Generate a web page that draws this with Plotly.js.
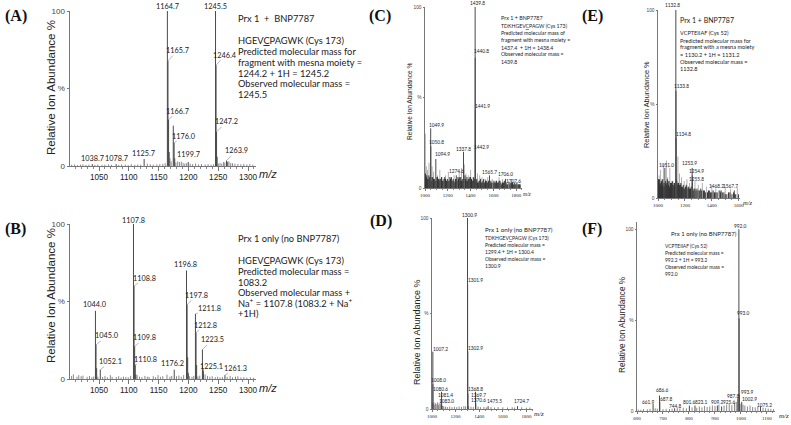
<!DOCTYPE html>
<html><head><meta charset="utf-8">
<script src="https://cdn.plot.ly/plotly-3.0.1.min.js"></script>
<style>html,body{margin:0;padding:0;background:#fff;} #chart{width:791px;height:425px;}</style>
</head><body><div id="chart"></div>
<script>
// ---------------- DATA ----------------
// Panel A: Prx 1 + BNP7787, HGEVCPAGWK
const aMz  = [1038.7, 1078.7, 1125.7, 1164.7, 1165.7, 1166.7, 1167.7, 1174.6, 1176.0, 1177.0, 1199.7, 1245.5, 1246.4, 1247.2, 1248.2, 1263.9, 1264.9];
const aInt = [1.2, 1.2, 4.5, 100, 68, 30, 9, 26, 15, 5, 2.6, 100, 65, 22, 6, 3.5, 2.5];
const aLabelMz = [1038.7, 1078.7, 1125.7, 1164.7, 1165.7, 1166.7, 1176.0, 1199.7, 1245.5, 1246.4, 1247.2, 1263.9];
const aNoiseMz  = [1004,1009,1014,1019,1023,1028,1033,1043,1048,1055,1060,1066,1071,1083,1088,1094,1099,1104,1110,1115,1120,1131,1136,1141,1147,1152,1157,1161,1169,1171,1179,1182,1185,1188,1191,1194,1197,1203,1207,1212,1217,1222,1228,1233,1238,1242,1250,1253,1256,1259,1261,1266,1268,1271,1274,1278,1283,1288,1293,1298,1303,1308];
const aNoiseInt = [0.8,1.0,0.6,0.9,1.1,0.7,0.9,0.8,1.0,0.7,0.9,1.1,0.8,0.7,1.0,0.9,0.6,1.2,0.8,1.0,0.9,1.5,1.1,0.9,1.0,1.2,1.4,1.8,5.0,3.0,2.2,3.0,2.5,2.8,2.0,1.6,1.8,1.5,1.2,1.6,1.1,1.3,1.0,1.2,0.9,1.1,1.6,2.0,1.5,2.6,2.2,2.8,3.0,2.0,1.8,1.5,1.3,1.1,1.4,1.0,1.2,0.8];

// Panel B: Prx 1 only, HGEVCPAGWK
const bMz  = [1044.0, 1045.0, 1046.0, 1052.1, 1107.8, 1108.8, 1109.8, 1110.8, 1111.8, 1176.2, 1196.8, 1197.8, 1198.8, 1199.8, 1211.8, 1212.8, 1213.8, 1223.5, 1224.5, 1225.1, 1261.3];
const bInt = [44, 22, 7, 6, 100, 60, 21, 9, 3, 6, 70, 48, 14, 4, 42, 30, 9, 19, 7, 5, 2.5];
const bLabelMz = [1044.0, 1045.0, 1052.1, 1107.8, 1108.8, 1109.8, 1110.8, 1176.2, 1196.8, 1197.8, 1211.8, 1212.8, 1223.5, 1225.1, 1261.3];
const bNoiseMz  = [1004,1007,1013,1016,1020,1023,1030,1034,1038,1041,1048,1056,1060,1064,1069,1072,1079,1083,1087,1091,1095,1099,1103,1114,1118,1122,1127,1131,1134,1141,1145,1149,1153,1157,1164,1169,1172,1180,1184,1188,1192,1202,1206,1209,1216,1219,1228,1232,1236,1240,1245,1249,1253,1257,1265,1270,1274,1279,1283,1288,1293,1298,1304,1309];
const bNoiseInt = [2.0,3.0,1.5,2.5,1.8,2.2,1.4,2.0,1.2,1.6,1.5,1.3,2.0,1.1,2.5,1.4,1.2,1.8,1.0,1.5,1.3,1.1,2.0,2.5,1.5,1.2,2.0,1.5,1.3,1.8,1.2,2.5,1.4,1.8,2.8,1.5,2.0,1.8,2.2,1.5,2.5,1.8,1.4,2.0,1.6,2.2,3.0,2.0,1.5,1.8,1.2,1.5,1.0,1.3,1.4,2.0,1.1,1.5,1.8,1.0,1.2,0.9,1.1,0.8];

// Panel C: Prx 1 + BNP7787, TDKHGEVCPAGW
const cMz  = [1049.9, 1050.8, 1094.9, 1274.6, 1337.8, 1439.8, 1440.8, 1441.9, 1442.9, 1565.7, 1706.0, 1707.6];
const cInt = [33, 23, 16, 7, 20, 100, 72, 43, 21, 7, 5, 3];
const cLabelMz = cMz;
const cMidMz  = [1003,1012,1022,1035,1062,1075,1110,1130,1150,1180,1205,1230,1255,1300,1320,1345,1360,1380,1400,1420,1460,1480,1500,1530,1550,1590,1620,1650,1680,1730,1760,1790];
const cMidInt = [30,12,10,14,12,9,7,10,6,7,9,6,7,9,11,13,8,7,10,6,8,7,6,5,6,5,4,6,5,4,5,3];
const cBaseMz  = [1001,1008,1016,1027,1041,1055,1068,1082,1097,1104,1118,1124,1139,1145,1158,1166,1173,1188,1196,1211,1218,1224,1239,1247,1262,1268,1281,1289,1294,1309,1313,1327,1333,1351,1356,1368,1374,1387,1393,1408,1414,1427,1434,1449,1454,1468,1474,1488,1494,1508,1515,1523,1538,1544,1558,1572,1578,1598,1605,1612,1628,1635,1643,1658,1666,1673,1688,1696,1711,1718,1738,1746,1753,1768,1775,1783,1798,1806,1815,1828];
const cBaseInt = [6,5,7,5,6,4,6,5,4,6,5,4,5,6,4,5,6,4,5,4,6,5,4,5,3,5,4,6,5,4,6,5,4,7,5,6,4,5,6,5,4,6,5,4,5,3,4,5,3,4,5,3,4,3,4,3,4,3,4,3,4,3,3,4,3,2,3,4,3,2,3,2,3,3,2,3,2,3,2,2];
const cBase2Mz  = [1004,1012,1021,1034,1047,1061,1075,1089,1110,1131,1152,1180,1203,1231,1254,1275,1301,1320,1341,1362,1380,1400,1420,1441,1461,1481,1501,1531,1551,1565,1585,1620,1650,1680,1703,1725,1760,1790,1822,1835];
const cBase2Int = [8,6,5,7,4,6,5,4,6,5,4,5,4,6,4,5,6,4,5,4,5,6,4,5,3,4,3,4,3,4,3,3,4,3,3,2,3,2,2,2];

// Panel D: Prx 1 only, TDKHGEVCPAGW
const dMz  = [1007.2, 1008.0, 1080.6, 1081.4, 1083.0, 1300.9, 1301.9, 1302.9, 1303.9, 1368.8, 1369.7, 1370.6, 1475.5, 1724.7];
const dInt = [30, 13, 9, 5, 2, 100, 65, 30, 8, 9, 6, 3, 1.5, 1.5];
const dLabelMz = [1007.2, 1008.0, 1080.6, 1081.4, 1083.0, 1300.9, 1301.9, 1302.9, 1368.8, 1369.7, 1370.6, 1475.5, 1724.7];
const dNoiseMz  = [1003,1012,1016,1024,1029,1041,1046,1055,1060,1070,1075,1090,1100,1115,1130,1150,1170,1190,1210,1230,1250,1270,1285,1310,1330,1350,1390,1410,1440,1460,1500,1530,1560,1600,1640,1680,1700,1760,1800,1830];
const dNoiseInt = [3,2.5,3.5,2,3,2.5,3.5,2,3,2.5,3,1.5,1.5,1.2,1,1.3,1,1.2,1,1.3,1.1,1.5,1.4,1.5,1.2,1.1,1.3,1,1.1,0.9,1,0.8,1,0.9,0.8,0.9,0.8,0.9,0.7,0.8];

// Panel E: Prx 1 + BNP7787, VCPTEIIAF
const eMz  = [1051.0, 1132.8, 1133.8, 1134.8, 1135.8, 1253.9, 1254.9, 1255.8, 1468.2, 1567.7];
const eInt = [16, 100, 57, 32, 10, 16, 12, 8, 4, 4];
const eLabelMz = [1051.0, 1132.8, 1133.8, 1134.8, 1253.9, 1254.9, 1255.8, 1468.2, 1567.7];
const eMidMz  = [1008,1018,1028,1040,1062,1072,1088,1100,1115,1148,1160,1175,1195,1215,1235,1275,1300,1330,1360,1400,1430,1470,1500,1540,1590];
const eMidInt = [12,15,10,18,20,11,16,9,8,22,13,11,9,10,8,9,7,8,6,7,5,4,6,5,6];
const eBaseMz  = [1002,1006,1012,1015,1021,1025,1031,1035,1044,1048,1055,1058,1066,1069,1078,1082,1093,1097,1104,1109,1119,1123,1140,1144,1153,1157,1166,1170,1183,1188,1199,1204,1210,1223,1228,1242,1247,1262,1268,1283,1290,1310,1318,1338,1345,1368,1375,1390,1410,1420,1440,1455,1478,1490,1512,1525,1550,1562,1578,1598];
const eBaseInt = [9,7,10,6,8,9,7,10,8,6,9,7,8,10,7,9,8,6,7,9,6,8,9,7,8,6,7,8,6,7,5,6,7,5,6,5,6,4,5,4,5,4,5,4,4,3,4,3,4,3,3,4,3,3,2,3,2,3,2,2];
const eBase2Mz  = [1004,1009,1018,1028,1038,1052,1062,1074,1086,1100,1113,1128,1148,1161,1175,1193,1215,1235,1255,1275,1298,1325,1352,1382,1400,1430,1465,1500,1535,1570];
const eBase2Int = [10,8,7,9,6,8,7,9,6,8,7,6,8,7,6,5,6,5,4,5,4,4,3,4,3,3,3,2,3,2];

// Panel F: Prx 1 only, VCPTEIIAF
const fMz  = [661.9, 686.6, 687.8, 744.8, 801.6, 823.1, 909.2, 925.6, 987.8, 992.0, 993.0, 993.9, 1002.9, 1075.2];
const fInt = [4, 8.5, 5, 1.5, 3, 3, 3, 2.5, 7, 100, 51, 9, 5, 2.5];
const fLabelMz = fMz;
const fNoiseMz  = [605,615,625,640,650,670,678,700,712,725,735,755,765,778,790,812,830,840,850,860,870,880,890,900,915,935,945,955,965,975,982,997,1008,1015,1025,1035,1045,1055,1065,1085,1095,1105,1115,1125];
const fNoiseInt = [0.8,0.7,1,0.9,1.2,1.5,1.3,1,1.2,1.1,1.3,1.6,1.4,1.8,1.5,2,1.8,2.5,2,2.8,2.2,2.5,3,2.8,3.5,3,3.5,4,3.2,4.5,5,4,3.5,3,2.5,3,2.2,2,2.5,1.8,1.5,1.3,1.2,1];

// Text blocks
const aText = ['Prx 1  +  BNP7787', 'HGEV<u>C</u>PAGWK (Cys 173)', 'Predicted molecular mass for', 'fragment with mesna moiety =', '1244.2 + 1H = 1245.2', 'Observed molecular mass =', '1245.5'];
const bText = ['Prx 1 only (no BNP7787)', 'HGEV<u>C</u>PAGWK (Cys 173)', 'Predicted molecular mass =', '1083.2', 'Observed molecular mass +', 'Na<sup>+</sup> = 1107.8 (1083.2 + Na<sup>+</sup>', '+1H)'];
const cText = ['Prx 1 + BNP7787', 'TDKHGEV<u>C</u>PAGW (Cys 173)', 'Predicted molecular mass of', 'fragment with mesna moiety =', '1437.4  + 1H = 1438.4', 'Observed molecular mass =', '1439.8'];
const dText = ['Prx 1 only (no BNP7787)', 'TDKHGEV<u>C</u>PAGW (Cys 173)', 'Predicted molecular mass =', '1299.4 + 1H = 1300.4', 'Observed molecular mass =', '1300.9'];
const eText = ['Prx 1 + BNP7787', 'VCPTEIIAF (Cys 52)', 'Predicted molecular mass for', 'fragment with a mesna moiety', '= 1130.2 + 1H = 1131.2', 'Observed molecular mass =', '1132.8'];
const fText = ['Prx 1 only (no BNP7787)', 'VCPTEIIAF (Cys 52)', 'Predicted molecular mass =', '992.2 + 1H = 993.2', 'Observed molecular mass =', '992.0'];

const yTitle = 'Relative Ion Abundance %';
const yTickVals = [0, 50, 100];
const yTickText = ['0', '%', '100'];
const xTicksAB = [1050, 1100, 1150, 1200, 1250, 1300];
const xTicksCDE = [1000, 1200, 1400, 1600, 1800];
const xTicksE = [1000, 1200, 1400, 1600];
const xTicksF = [600, 700, 800, 900, 1000, 1100];

// ---------------- STYLE / LAYOUT ----------------
const W = 791, H = 425;
const px = p => p / W;
const py = p => 1 - p / H;
const TXT = 'Lato, "Liberation Sans", sans-serif';
const ARIAL = '"Liberation Sans", Arial, sans-serif';
const SERIF = '"Liberation Serif", "Times New Roman", serif';

// label offsets [dx, dy] in px, same order as label lists
const offA = [[0,6],[0,6],[-1,6],[0,4],[10,10],[9.4,8.5],[10,6.7],[0,7],[0,4],[9,10],[10,10],[10,9.6]];
const offB = [[0,6.8],[11,9],[10,8],[0,4],[10.4,8],[10,8.5],[10,6],[-1.7,6],[-1.5,6.5],[9.4,9],[14.5,5],[9.4,7.5],[9.6,9.6],[8.6,4.6],[10.5,7]];
const offC = [[6,3],[6,4],[7,5],[0,4],[0,3],[2,4],[6.5,6.7],[6.7,4.2],[5.7,3],[0,3.5],[0,5],[8,1.5]];
const offD = [[7.5,2.5],[5.5,4],[-1.5,3],[3.5,4.5],[5,4.5],[2,3.5],[7.5,5],[7.5,3.7],[0,3],[3,3],[3,3.3],[6,5.5],[4,5]];
const offE = [[2,3],[-3,5],[6,5],[7,4],[-2.5,5],[4.5,4.7],[4.5,3.7],[-4,4.5],[-4,4]];
const offF = [[-5,1.7],[2.5,5.6],[6,3],[0,2],[0,3.5],[6,3.5],[0,3.5],[7,4.5],[-5,2.3],[1,3],[4,5],[8,2.6],[8,3],[4,1.5]];

const panels = [
  {letter:'(A)', lp:[3,16], xd:[70,256], yd:[11,166], xr:[1001.3,1313.4], yr:[0,100], xt:xTicksAB, minor:10, big:true,
   peaks:[aMz,aInt], layers:[[aNoiseMz,aNoiseInt,'#8a8a8a']], lab:aLabelMz, off:offA, arrowMin:8,
   text:aText, tx:237, ty:[19,40,52,62.5,73,83.5,94], tsz:[9.3,9.3,9.3,9.3,9.3,9.3,9.3],
   yt:[51,88,11.5], mz:[268,174,11]},
  {letter:'(B)', lp:[3,229], xd:[70,256], yd:[224,379], xr:[1001.3,1313.4], yr:[0,100], xt:xTicksAB, minor:10, big:true,
   peaks:[bMz,bInt], layers:[[bNoiseMz,bNoiseInt,'#8a8a8a']], lab:bLabelMz, off:offB, arrowMin:8,
   text:bText, tx:237, ty:[238,260.5,271,282,292.5,302.5,313], tsz:[9.3,9.3,9.3,9.3,9.3,9.3,9.3],
   yt:[51,296,11.5], mz:[268,388,11]},
  {letter:'(C)', lp:[367,16], xd:[425,522], yd:[7,188], xr:[1000,1851], yr:[0,100], xt:xTicksCDE, minor:50, big:false,
   peaks:[cMz,cInt], layers:[[cMidMz,cMidInt,'#b0b0b0'],[cBaseMz,cBaseInt,'#333333'],[cBase2Mz,cBase2Int,'#333333']], lab:cLabelMz, off:offC, arrowMin:0,
   text:cText, tx:500, ty:[18.3,26,33.3,40.3,47.5,54.5,61.7], tsz:[5.4,5.2,5.2,5.2,5.2,5.2,5.2],
   yt:[409,101,6.6], mz:[527,193.5,5.5]},
  {letter:'(D)', lp:[368,221], xd:[432,533], yd:[218,409], xr:[1000,1856], yr:[0,100], xt:xTicksCDE, minor:50, big:false,
   peaks:[dMz,dInt], layers:[[dNoiseMz,dNoiseInt,'#8a8a8a']], lab:dLabelMz, off:offD, arrowMin:0,
   text:dText, tx:484, ty:[230,237.7,245,251.7,259,266], tsz:[6.2,5,5,5,5,5],
   yt:[417,332,9], mz:[539,414,7]},
  {letter:'(E)', lp:[580,16], xd:[658,740], yd:[10,198], xr:[1000,1610], yr:[0,100], xt:xTicksE, minor:50, big:false,
   peaks:[eMz,eInt], layers:[[eMidMz,eMidInt,'#b0b0b0'],[eBaseMz,eBaseInt,'#333333'],[eBase2Mz,eBase2Int,'#333333']], lab:eLabelMz, off:offE, arrowMin:0,
   text:eText, tx:679, ty:[20,32.7,40,46.7,54,61,68.3], tsz:[7,5.6,5.6,5.6,5.6,5.6,5.6],
   yt:[646,105,7.4], mz:[748,202.5,6.5]},
  {letter:'(F)', lp:[580,229], xd:[637,775], yd:[222,411], xr:[600,1131], yr:[0,104], xt:xTicksF, minor:20, big:false,
   peaks:[fMz,fInt], layers:[[fNoiseMz,fNoiseInt,'#8a8a8a']], lab:fLabelMz, off:offF, arrowMin:0,
   text:fText, tx:664, ty:[234,245.7,253,260,267.3,274.3], tsz:[6,4.9,4.9,4.9,4.9,4.9], tx0:670,
   yt:[622,325,8.2], mz:[784,416,7]}
];

function sticks(mz, it) {
  const x = [], y = [];
  const n = Math.min(mz.length, it.length);
  for (let i = 0; i < n; i++) { x.push(mz[i], mz[i], null); y.push(0, it[i], null); }
  return {x, y};
}

const traces = [];
const annotations = [];
const layout = {
  width: W, height: H, margin: {l:0, r:0, t:0, b:0},
  paper_bgcolor: '#fff', plot_bgcolor: 'rgba(0,0,0,0)',
  showlegend: false, font: {family: ARIAL, color: '#222'}
};

panels.forEach((p, i) => {
  const n = i === 0 ? '' : String(i + 1);
  const xa = 'x' + n, ya = 'y' + n;
  p.layers.forEach(L => {
    const s = sticks(L[0], L[1]);
    traces.push({type:'scatter', mode:'lines', x:s.x, y:s.y, xaxis:xa, yaxis:ya,
      line:{color:L[2], width:1}, hoverinfo:'skip'});
  });
  const s = sticks(p.peaks[0], p.peaks[1]);
  traces.push({type:'scatter', mode:'lines', x:s.x, y:s.y, xaxis:xa, yaxis:ya,
    line:{color:'#4a4a4a', width:1}, hoverinfo:'skip'});

  const tickSize = p.big ? 8.2 : 5;
  const tickFam = p.big ? ARIAL : SERIF;
  layout['xaxis' + n] = {
    domain:[px(p.xd[0]), px(p.xd[1])], range:p.xr, anchor:ya,
    showline:true, linecolor:'#777', linewidth:1, showgrid:false, zeroline:false,
    ticks:'outside', ticklen:p.big?3.5:2, tickwidth:1, tickcolor:'#777',
    tickmode:'array', tickvals:p.xt, ticktext:p.xt.map(String),
    tickfont:{family:tickFam, size:tickSize, color:'#222'},
    minor:{tickmode:'linear', tick0:p.xr[0] < 1000 ? 600 : 1000, dtick:p.minor, ticks:'outside', ticklen:p.big?2:1.2, tickcolor:'#888', showgrid:false},
    fixedrange:true
  };
  layout['yaxis' + n] = {
    domain:[py(p.yd[1]), py(p.yd[0])], range:p.yr, anchor:xa,
    showline:true, linecolor:'#777', linewidth:1, showgrid:false, zeroline:false,
    ticks:'outside', ticklen:p.big?2.5:1.5, tickwidth:1, tickcolor:'#777',
    tickmode:'array', tickvals:yTickVals, ticktext:yTickText,
    tickfont:{family:ARIAL, size:p.big?8:4.8, color:'#444'},
    fixedrange:true
  };

  // peak labels
  const lf = {family:TXT, size:p.big?7.3:4.8, color:'#222'};
  p.lab.forEach((m, k) => {
    const idx = p.peaks[0].indexOf(m);
    const h = p.peaks[1][idx];
    const o = p.off[k] || [0, 4];
    const a = {xref:xa, yref:ya, x:m, y:h, text:m.toFixed(1), font:lf,
      xanchor:'center', yanchor:'middle', borderpad:0};
    if (p.arrowMin && Math.abs(o[0]) >= p.arrowMin) {
      Object.assign(a, {showarrow:true, ax:o[0], ay:-o[1], arrowhead:0, arrowwidth:0.6,
        arrowcolor:'#888', standoff:0, startstandoff:0});
    } else {
      Object.assign(a, {showarrow:false, xshift:o[0], yshift:o[1]});
    }
    annotations.push(a);
  });

  // text block
  p.text.forEach((t, k) => {
    annotations.push({xref:'paper', yref:'paper', x:px(k === 0 && p.tx0 ? p.tx0 : p.tx), y:py(p.ty[k]),
      xanchor:'left', yanchor:'middle', showarrow:false, text:t, borderpad:0,
      font:{family:TXT, size:p.tsz[k], color:'#222'}});
  });

  // panel letter
  annotations.push({xref:'paper', yref:'paper', x:px(p.lp[0]), y:py(p.lp[1]), xanchor:'left', yanchor:'middle',
    showarrow:false, text:'<b>' + p.letter + '</b>', font:{family:SERIF, size:16, color:'#111'}});
  // y title
  annotations.push({xref:'paper', yref:'paper', x:px(p.yt[0]), y:py(p.yt[1]), xanchor:'center', yanchor:'middle',
    showarrow:false, textangle:-90, text:yTitle, font:{family:ARIAL, size:p.yt[2], color:'#222'}});
  // m/z
  annotations.push({xref:'paper', yref:'paper', x:px(p.mz[0]), y:py(p.mz[1]), xanchor:'center', yanchor:'middle',
    showarrow:false, text:'<i>m/z</i>', font:{family:p.big ? ARIAL : SERIF, size:p.mz[2], color:'#222'}});
});

layout.annotations = annotations;
Plotly.newPlot('chart', traces, layout, {staticPlot:true, displayModeBar:false});
</script>
</body></html>
